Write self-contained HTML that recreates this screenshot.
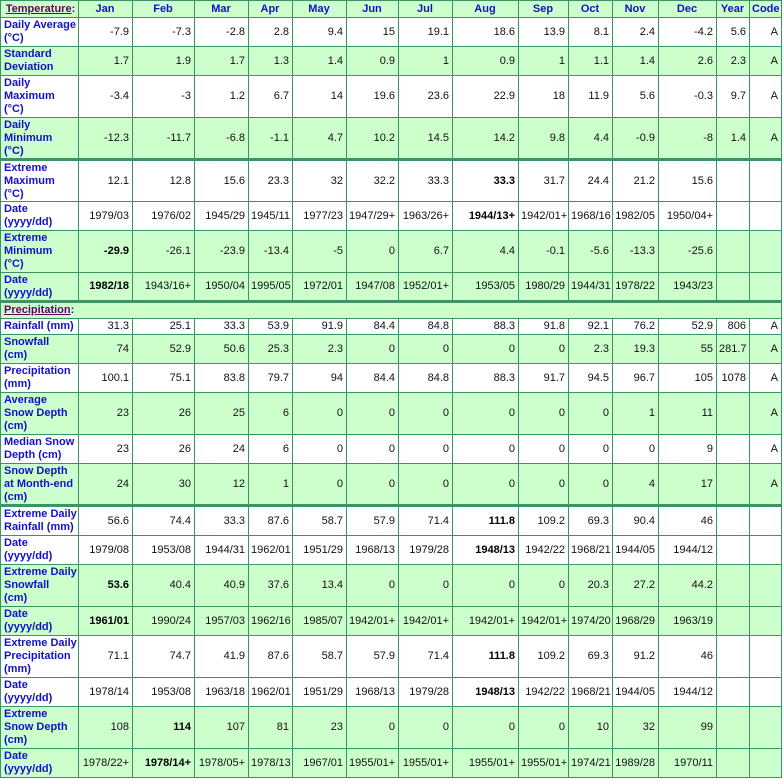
<!DOCTYPE html>
<html><head><meta charset="utf-8"><style>
body{margin:0;background:#fff;}
table{position:absolute;left:0;top:0;border-collapse:collapse;table-layout:fixed;width:782px;font-family:"Liberation Sans",sans-serif;font-size:11px;}
td{border:1px solid #3a9466;padding:0 3px 0 2px;text-align:right;color:#111;line-height:13px;overflow:hidden;white-space:nowrap;}
td.l{text-align:left;color:#1010cc;font-weight:bold;padding:0 1px 0 3px;}
tr.g td{background:#ccffcc;}
tr.h td{background:#ccffcc;color:#1010cc;font-weight:bold;text-align:center;}
tr.t td{border-top:3px solid #3a9466;}
b{color:#000;}
.sec{color:#660066;text-decoration:underline;}
</style></head><body>
<table>
<colgroup><col style="width:78px"><col style="width:54px"><col style="width:62px"><col style="width:54px"><col style="width:44px"><col style="width:54px"><col style="width:52px"><col style="width:54px"><col style="width:66px"><col style="width:50px"><col style="width:44px"><col style="width:46px"><col style="width:58px"><col style="width:33px"><col style="width:32px"></colgroup>
<tr class="h" style="height:17px"><td class="l"><span class="sec">Temperature</span>:</td><td>Jan</td><td>Feb</td><td>Mar</td><td>Apr</td><td>May</td><td>Jun</td><td>Jul</td><td>Aug</td><td>Sep</td><td>Oct</td><td>Nov</td><td>Dec</td><td>Year</td><td>Code</td></tr>
<tr style="height:29px"><td class="l">Daily Average<br>(°C)</td><td>-7.9</td><td>-7.3</td><td>-2.8</td><td>2.8</td><td>9.4</td><td>15</td><td>19.1</td><td>18.6</td><td>13.9</td><td>8.1</td><td>2.4</td><td>-4.2</td><td>5.6</td><td>A</td></tr>
<tr class="g" style="height:29px"><td class="l">Standard<br>Deviation</td><td>1.7</td><td>1.9</td><td>1.7</td><td>1.3</td><td>1.4</td><td>0.9</td><td>1</td><td>0.9</td><td>1</td><td>1.1</td><td>1.4</td><td>2.6</td><td>2.3</td><td>A</td></tr>
<tr style="height:42px"><td class="l">Daily<br>Maximum<br>(°C)</td><td>-3.4</td><td>-3</td><td>1.2</td><td>6.7</td><td>14</td><td>19.6</td><td>23.6</td><td>22.9</td><td>18</td><td>11.9</td><td>5.6</td><td>-0.3</td><td>9.7</td><td>A</td></tr>
<tr class="g" style="height:42px"><td class="l">Daily<br>Minimum<br>(°C)</td><td>-12.3</td><td>-11.7</td><td>-6.8</td><td>-1.1</td><td>4.7</td><td>10.2</td><td>14.5</td><td>14.2</td><td>9.8</td><td>4.4</td><td>-0.9</td><td>-8</td><td>1.4</td><td>A</td></tr>
<tr class="t" style="height:42px"><td class="l">Extreme<br>Maximum<br>(°C)</td><td>12.1</td><td>12.8</td><td>15.6</td><td>23.3</td><td>32</td><td>32.2</td><td>33.3</td><td><b>33.3</b></td><td>31.7</td><td>24.4</td><td>21.2</td><td>15.6</td><td></td><td></td></tr>
<tr style="height:29px"><td class="l">Date<br>(yyyy/dd)</td><td>1979/03</td><td>1976/02</td><td>1945/29</td><td>1945/11</td><td>1977/23</td><td>1947/29+</td><td>1963/26+</td><td><b>1944/13+</b></td><td>1942/01+</td><td>1968/16</td><td>1982/05</td><td>1950/04+</td><td></td><td></td></tr>
<tr class="g" style="height:42px"><td class="l">Extreme<br>Minimum<br>(°C)</td><td><b>-29.9</b></td><td>-26.1</td><td>-23.9</td><td>-13.4</td><td>-5</td><td>0</td><td>6.7</td><td>4.4</td><td>-0.1</td><td>-5.6</td><td>-13.3</td><td>-25.6</td><td></td><td></td></tr>
<tr class="g" style="height:29px"><td class="l">Date<br>(yyyy/dd)</td><td><b>1982/18</b></td><td>1943/16+</td><td>1950/04</td><td>1995/05</td><td>1972/01</td><td>1947/08</td><td>1952/01+</td><td>1953/05</td><td>1980/29</td><td>1944/31</td><td>1978/22</td><td>1943/23</td><td></td><td></td></tr>
<tr class="g t" style="height:17px"><td class="l" colspan="15"><span class="sec">Precipitation</span>:</td></tr>
<tr style="height:16px"><td class="l">Rainfall (mm)</td><td>31.3</td><td>25.1</td><td>33.3</td><td>53.9</td><td>91.9</td><td>84.4</td><td>84.8</td><td>88.3</td><td>91.8</td><td>92.1</td><td>76.2</td><td>52.9</td><td>806</td><td>A</td></tr>
<tr class="g" style="height:29px"><td class="l">Snowfall<br>(cm)</td><td>74</td><td>52.9</td><td>50.6</td><td>25.3</td><td>2.3</td><td>0</td><td>0</td><td>0</td><td>0</td><td>2.3</td><td>19.3</td><td>55</td><td>281.7</td><td>A</td></tr>
<tr style="height:29px"><td class="l">Precipitation<br>(mm)</td><td>100.1</td><td>75.1</td><td>83.8</td><td>79.7</td><td>94</td><td>84.4</td><td>84.8</td><td>88.3</td><td>91.7</td><td>94.5</td><td>96.7</td><td>105</td><td>1078</td><td>A</td></tr>
<tr class="g" style="height:42px"><td class="l">Average<br>Snow Depth<br>(cm)</td><td>23</td><td>26</td><td>25</td><td>6</td><td>0</td><td>0</td><td>0</td><td>0</td><td>0</td><td>0</td><td>1</td><td>11</td><td></td><td>A</td></tr>
<tr style="height:29px"><td class="l">Median Snow<br>Depth (cm)</td><td>23</td><td>26</td><td>24</td><td>6</td><td>0</td><td>0</td><td>0</td><td>0</td><td>0</td><td>0</td><td>0</td><td>9</td><td></td><td>A</td></tr>
<tr class="g" style="height:42px"><td class="l">Snow Depth<br>at Month-end<br>(cm)</td><td>24</td><td>30</td><td>12</td><td>1</td><td>0</td><td>0</td><td>0</td><td>0</td><td>0</td><td>0</td><td>4</td><td>17</td><td></td><td>A</td></tr>
<tr class="t" style="height:30px"><td class="l">Extreme Daily<br>Rainfall (mm)</td><td>56.6</td><td>74.4</td><td>33.3</td><td>87.6</td><td>58.7</td><td>57.9</td><td>71.4</td><td><b>111.8</b></td><td>109.2</td><td>69.3</td><td>90.4</td><td>46</td><td></td><td></td></tr>
<tr style="height:29px"><td class="l">Date<br>(yyyy/dd)</td><td>1979/08</td><td>1953/08</td><td>1944/31</td><td>1962/01</td><td>1951/29</td><td>1968/13</td><td>1979/28</td><td><b>1948/13</b></td><td>1942/22</td><td>1968/21</td><td>1944/05</td><td>1944/12</td><td></td><td></td></tr>
<tr class="g" style="height:42px"><td class="l">Extreme Daily<br>Snowfall<br>(cm)</td><td><b>53.6</b></td><td>40.4</td><td>40.9</td><td>37.6</td><td>13.4</td><td>0</td><td>0</td><td>0</td><td>0</td><td>20.3</td><td>27.2</td><td>44.2</td><td></td><td></td></tr>
<tr class="g" style="height:29px"><td class="l">Date<br>(yyyy/dd)</td><td><b>1961/01</b></td><td>1990/24</td><td>1957/03</td><td>1962/16</td><td>1985/07</td><td>1942/01+</td><td>1942/01+</td><td>1942/01+</td><td>1942/01+</td><td>1974/20</td><td>1968/29</td><td>1963/19</td><td></td><td></td></tr>
<tr style="height:42px"><td class="l">Extreme Daily<br>Precipitation<br>(mm)</td><td>71.1</td><td>74.7</td><td>41.9</td><td>87.6</td><td>58.7</td><td>57.9</td><td>71.4</td><td><b>111.8</b></td><td>109.2</td><td>69.3</td><td>91.2</td><td>46</td><td></td><td></td></tr>
<tr style="height:29px"><td class="l">Date<br>(yyyy/dd)</td><td>1978/14</td><td>1953/08</td><td>1963/18</td><td>1962/01</td><td>1951/29</td><td>1968/13</td><td>1979/28</td><td><b>1948/13</b></td><td>1942/22</td><td>1968/21</td><td>1944/05</td><td>1944/12</td><td></td><td></td></tr>
<tr class="g" style="height:42px"><td class="l">Extreme<br>Snow Depth<br>(cm)</td><td>108</td><td><b>114</b></td><td>107</td><td>81</td><td>23</td><td>0</td><td>0</td><td>0</td><td>0</td><td>10</td><td>32</td><td>99</td><td></td><td></td></tr>
<tr class="g" style="height:29px"><td class="l">Date<br>(yyyy/dd)</td><td>1978/22+</td><td><b>1978/14+</b></td><td>1978/05+</td><td>1978/13</td><td>1967/01</td><td>1955/01+</td><td>1955/01+</td><td>1955/01+</td><td>1955/01+</td><td>1974/21</td><td>1989/28</td><td>1970/11</td><td></td><td></td></tr>
</table>
</body></html>
